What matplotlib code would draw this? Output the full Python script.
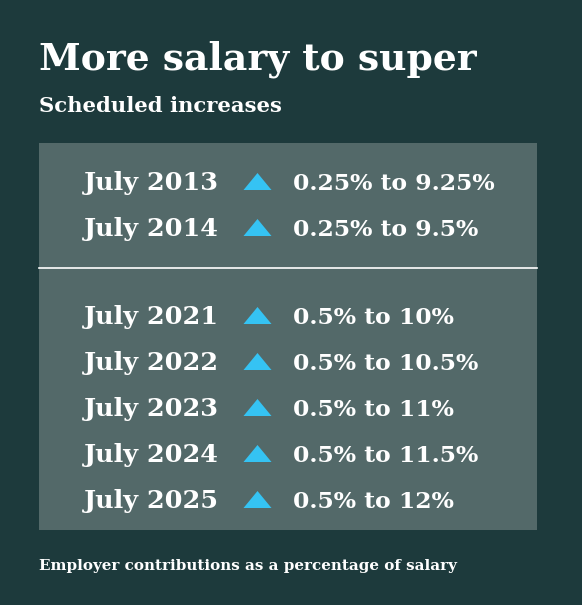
import matplotlib
matplotlib.use("Agg")
import matplotlib.pyplot as plt
from matplotlib.patches import Rectangle, Polygon

# scheduled super guarantee increases
dates = ["July 2013", "July 2014", "July 2021", "July 2022", "July 2023", "July 2024", "July 2025"]
steps = [0.25, 0.25, 0.5, 0.5, 0.5, 0.5, 0.5]
rates = [9.25, 9.5, 10, 10.5, 11, 11.5, 12]
groups = [0, 0, 1, 1, 1, 1, 1]

BG = "#1d3a3c"
BOX = "#5d7272"
TRI = "#35c3f3"
SERIF = ["DejaVu Serif Condensed", "DejaVu Serif"]


def fmt(v):
    return ("%g" % v) + "%"


fig = plt.figure(figsize=(5.82, 6.05), dpi=100)
fig.patch.set_facecolor(BG)
ax = fig.add_axes([0, 0, 1, 1])
ax.set_xlim(0, 582)
ax.set_ylim(605, 0)
ax.axis("off")
renderer = fig.canvas.get_renderer()


def fit(t, width):
    # scale font so the text spans the wanted pixel width
    w = t.get_window_extent(renderer).width
    t.set_fontsize(t.get_fontsize() * width / w)
    return t.get_fontsize()


def label(x, y, s, size=20):
    return ax.text(x, y, s, color="white", fontsize=size, fontweight="bold",
                   family=SERIF, va="baseline", ha="left")


fit(label(39, 70, "More salary to super"), 439)
fit(label(39, 112, "Scheduled increases"), 243)
fit(label(39, 570, "Employer contributions as a percentage of salary"), 419)

ax.add_patch(Rectangle((39, 143), 498, 387, facecolor=BOX, edgecolor="none", alpha=0.85))
ax.plot([39, 537], [268, 268], color="white", lw=1.2)

# font sizes for the rows, from the first row widths
probe = label(0, -100, dates[0])
date_size = fit(probe, 135)
probe.set_text(fmt(steps[0]) + " to " + fmt(rates[0]))
probe.set_fontsize(20)
val_size = fit(probe, 201)
probe.remove()

y = 190
prev = groups[0]
for d, s, r, g in zip(dates, steps, rates, groups):
    if g != prev:
        y += 42
        prev = g
    label(84, y, d, date_size)
    ax.add_patch(Polygon([(243.5, y), (271.5, y), (257.5, y - 17)], closed=True,
                         facecolor=TRI, edgecolor="none"))
    label(293, y, fmt(s) + " to " + fmt(r), val_size)
    y += 46

fig.savefig("out.png", dpi=100, facecolor=BG)
